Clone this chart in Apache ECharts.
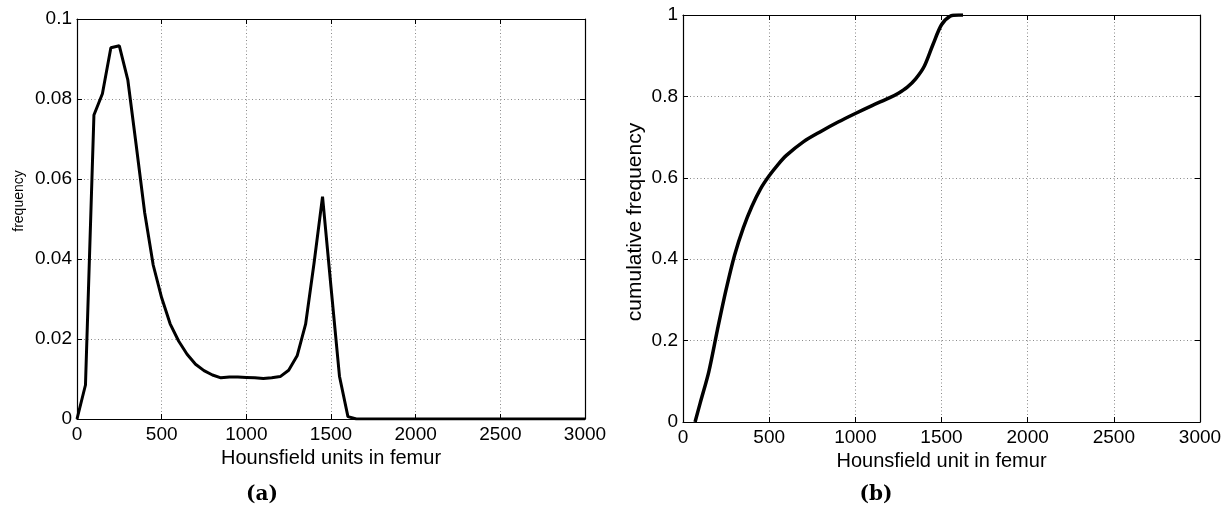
<!DOCTYPE html>
<html>
<head>
<meta charset="utf-8">
<script src="https://cdn.jsdelivr.net/npm/echarts@6/dist/echarts.min.js"></script>
<style>
html,body{margin:0;padding:0;background:#fff;}
#chart{width:1229px;height:510px;}
</style>
</head>
<body>
<div id="chart"></div>
<script>
// Panel (a): histogram of Hounsfield units
const huA = [0,50,100,150,200,250,300,350,400,450,500,550,600,650,700,750,800,850,900,950,1000,1050,1100,1150,1200,1250,1300,1350,1400,1450,1500,1550,1600,1650,3000];
const freqA = [0,0.0085,0.076,0.0813,0.0928,0.0933,0.0848,0.0683,0.0515,0.0385,0.0303,0.0238,0.0195,0.0162,0.0137,0.0121,0.011,0.0103,0.0105,0.0105,0.0104,0.0103,0.0101,0.0103,0.0106,0.0122,0.0158,0.0237,0.039,0.0556,0.033,0.0107,0.0006,0,0];
// Panel (b): cumulative frequency
const huB = [70,100,150,200,250,300,350,400,450,500,550,600,700,800,900,1000,1100,1200,1250,1300,1350,1400,1450,1500,1550,1600,1625];
const cumB = [0,0.047,0.124,0.227,0.325,0.411,0.477,0.53,0.573,0.605,0.632,0.655,0.689,0.714,0.737,0.758,0.778,0.797,0.808,0.822,0.843,0.874,0.927,0.976,0.997,1.0,1.0];
const xTicks = [0,500,1000,1500,2000,2500,3000];
const yTicksA = [0,0.02,0.04,0.06,0.08,0.1];
const yTicksB = [0,0.2,0.4,0.6,0.8,1];

const FONT = "'Liberation Sans', Arial, sans-serif";
const chart = echarts.init(document.getElementById('chart'));

function xAxisDef(grid, pos, show, name) {
  return {
    type: 'value', gridIndex: grid, position: pos,
    min: xTicks[0], max: xTicks[xTicks.length-1], interval: xTicks[1]-xTicks[0],
    name: show ? name : '', nameLocation: 'middle', nameGap: 25,
    nameTextStyle: {color:'#000', fontSize:20, fontFamily:FONT},
    axisLine: {show:true, onZero:false, lineStyle:{color:'#000', width:1.2}},
    axisTick: {show:true, inside:true, length:5, lineStyle:{color:'#000'}},
    axisLabel: {show:show, color:'#000', fontSize:19, fontFamily:FONT, margin:6,
      formatter: v => String(v)},
    splitLine: {show:show, lineStyle:{color:'#8a8a8a', type:[1,2.5], width:1}}
  };
}
function yAxisDef(grid, pos, show, ticks) {
  return {
    type: 'value', gridIndex: grid, position: pos,
    min: ticks[0], max: ticks[ticks.length-1], interval: ticks[1]-ticks[0],
    axisLine: {show:true, onZero:false, lineStyle:{color:'#000', width:1.2}},
    axisTick: {show:true, inside:true, length:5, lineStyle:{color:'#000'}},
    axisLabel: {show:show, color:'#000', fontSize:19, fontFamily:FONT, margin:5,
      formatter: v => String(+v.toFixed(4))},
    splitLine: {show:show, lineStyle:{color:'#8a8a8a', type:[1,2.5], width:1}}
  };
}

chart.setOption({
  animation: false,
  backgroundColor: '#fff',
  grid: [
    {left:77, top:19, width:508, height:400},
    {left:683, top:15, width:517, height:407}
  ],
  xAxis: [
    xAxisDef(0,'bottom',true,'Hounsfield units in femur'),
    xAxisDef(0,'top',false,''),
    xAxisDef(1,'bottom',true,'Hounsfield unit in femur'),
    xAxisDef(1,'top',false,'')
  ],
  yAxis: [
    yAxisDef(0,'left',true,yTicksA),
    yAxisDef(0,'right',false,yTicksA),
    yAxisDef(1,'left',true,yTicksB),
    yAxisDef(1,'right',false,yTicksB)
  ],
  graphic: [
    {type:'text', x:19, y:201, rotation:Math.PI/2,
      style:{text:'frequency', fill:'#000', font:'14px '+FONT, align:'center', verticalAlign:'middle'}},
    {type:'text', x:635, y:222, rotation:Math.PI/2,
      style:{text:'cumulative frequency', fill:'#000', font:'21px '+FONT, align:'center', verticalAlign:'middle'}},
    {type:'text', x:262, y:495,
      style:{text:'(a)', fill:'#000', font:"bold 20px 'DejaVu Serif', 'Liberation Serif', serif", align:'center', verticalAlign:'middle'}},
    {type:'text', x:876, y:495,
      style:{text:'(b)', fill:'#000', font:"bold 20px 'DejaVu Serif', 'Liberation Serif', serif", align:'center', verticalAlign:'middle'}}
  ],
  series: [
    {type:'line', xAxisIndex:0, yAxisIndex:0, showSymbol:false,
      data: huA.map((h,i)=>[h,freqA[i]]),
      lineStyle:{color:'#000', width:3}},
    {type:'line', xAxisIndex:2, yAxisIndex:2, showSymbol:false, smooth:0.3,
      data: huB.map((h,i)=>[h,cumB[i]]),
      lineStyle:{color:'#000', width:3.5}}
  ]
});
</script>
</body>
</html>
